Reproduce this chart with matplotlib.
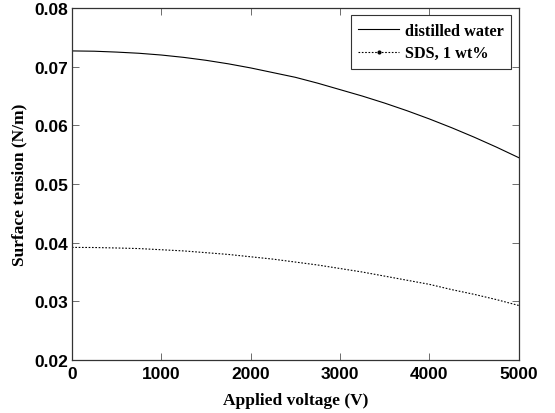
import matplotlib
matplotlib.use('Agg')
import matplotlib.pyplot as plt
from matplotlib.lines import Line2D

# applied voltage (V)
voltage = [0, 250, 500, 750, 1000, 1250, 1500, 1750, 2000, 2250, 2500,
           2750, 3000, 3250, 3500, 3750, 4000, 4250, 4500, 4750, 5000]
# surface tension (N/m)
water = [0.0727, 0.07265, 0.0725, 0.0723, 0.0720, 0.0716, 0.0711, 0.0705,
         0.0698, 0.0690, 0.0682, 0.0672, 0.0661, 0.0650, 0.0638, 0.0625,
         0.0611, 0.0596, 0.0580, 0.0563, 0.0545]
sds = [0.0392, 0.03918, 0.0391, 0.0390, 0.0388, 0.0386, 0.0383, 0.0380,
       0.0376, 0.0372, 0.0367, 0.0362, 0.0356, 0.0350, 0.0343, 0.0336,
       0.0329, 0.0320, 0.0312, 0.0303, 0.0293]

serif = {'family': 'Liberation Serif', 'weight': 'bold'}

fig = plt.figure(figsize=(5.55, 4.14), dpi=100)
ax = fig.add_axes([0.1297, 0.128, 0.805, 0.850])

ax.plot(voltage, water, color='black', lw=0.8)
ax.plot(voltage, sds, color='black', lw=0.8, ls=(0, (1.5, 1.5)))

ax.set_xlim(0, 5000)
ax.set_ylim(0.02, 0.08)
ax.set_xticks([0, 1000, 2000, 3000, 4000, 5000])
ax.set_yticks([0.02, 0.03, 0.04, 0.05, 0.06, 0.07, 0.08])
ax.set_yticklabels(['0.02', '0.03', '0.04', '0.05', '0.06', '0.07', '0.08'])
ax.tick_params(direction='in', top=True, right=True, length=5, width=0.6,
               color='#555555', labelsize=12.5)
ax.tick_params(axis='x', pad=4)
ax.tick_params(axis='y', pad=3)
for lab in ax.get_xticklabels() + ax.get_yticklabels():
    lab.set_family('Liberation Sans')
    lab.set_weight('bold')
for s in ax.spines.values():
    s.set_linewidth(0.9)
    s.set_color('#333333')

ax.set_xlabel('Applied voltage (V)', fontdict=serif, fontsize=12.5, labelpad=8)
ax.set_ylabel('Surface tension (N/m)', fontdict=serif, fontsize=12.5, labelpad=5)

handles = [Line2D([], [], color='black', lw=0.8),
           Line2D([], [], color='black', lw=0.8, ls=(0, (1.5, 1.5)),
                  marker='.', markersize=4)]
leg = ax.legend(handles, ['distilled water', 'SDS, 1 wt%'], loc='upper right',
                prop={'family': 'Liberation Serif', 'weight': 'bold', 'size': 11.7},
                fancybox=False, framealpha=1, edgecolor='#333333',
                borderaxespad=0.45, handlelength=2.5, handletextpad=0.4,
                numpoints=1, borderpad=0.45, labelspacing=0.4)
leg.get_frame().set_linewidth(0.8)

fig.savefig('out.png', dpi=100)
